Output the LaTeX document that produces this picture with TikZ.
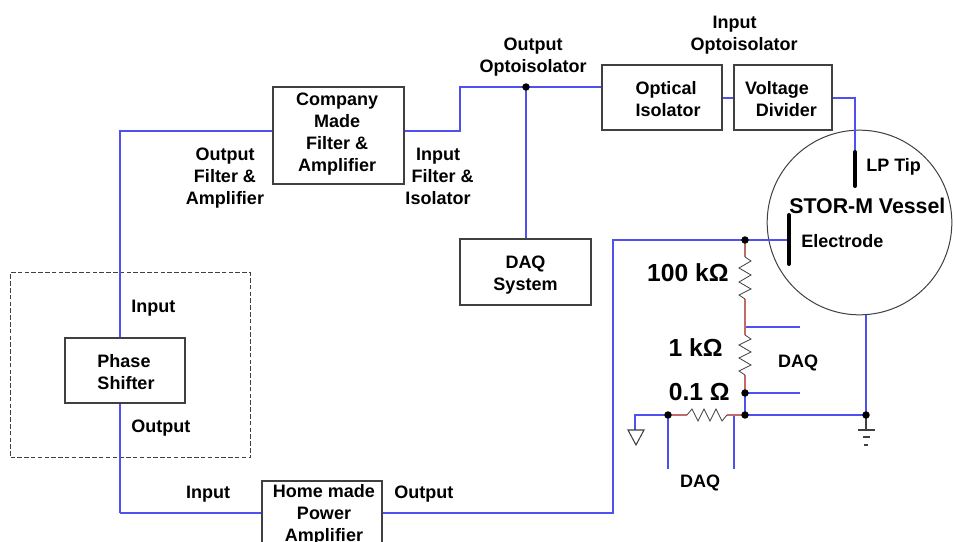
\documentclass[tikz,border=0pt]{standalone}
\usepackage{fontspec}
\setmainfont{Liberation Sans}
\newcommand{\txtf}{\bfseries\fontsize{13.5}{16.5}\selectfont}
\newcommand{\bigf}{\bfseries\fontsize{18.5}{22}\selectfont}
\definecolor{wireblue}{HTML}{5050F0}
\definecolor{wirered}{HTML}{C46A6A}
\definecolor{ink}{HTML}{404040}
\tikzset{
  x=0.75pt,y=-0.75pt,
  box/.style={draw=ink,line width=0.8pt,fill=white,inner sep=0pt},
  txt/.style={inner sep=0pt,align=center,font=\txtf,text=black},
  bigtxt/.style={inner sep=0pt,align=center,font=\bigf,text=black},
  wire/.style={draw=wireblue,line width=0.9pt},
  redwire/.style={draw=wirered,line width=0.9pt},
  res/.style={draw=ink,line width=0.6pt,line join=miter},
  gnd/.style={draw=ink,line width=0.8pt},
  probe/.style={draw=black,line width=3pt,line cap=round},
  dot/.style={circle,fill=black,inner sep=0pt,minimum size=5.6pt},
}
\begin{document}
\begin{tikzpicture}
\useasboundingbox (0,0) rectangle (953,542);
\clip (0,0) rectangle (953,542);
\fill[white] (0,0) rectangle (953,542);
% vessel and dashed frame
\node[draw=ink,line width=0.75pt,circle,minimum size=138.5pt,inner sep=0pt] (vessel) at (859.5,222.5) {};
\node[draw=ink,line width=0.8pt,minimum width=180pt,minimum height=138.5pt,inner sep=0pt,
      dash pattern=on 3.4pt off 1.7pt] (frame) at (130.5,365) {};
% coordinates
\coordinate (w1) at (120,131);
\coordinate (w2) at (460,131);
\coordinate (w3) at (460,87);
\coordinate (w4) at (855,98);
\coordinate (w5) at (120,513);
\coordinate (w6) at (613,513);
\coordinate (w7) at (613,240);
\coordinate (tipTop) at (855,152);
\coordinate (tipBot) at (855,186);
\coordinate (elTop) at (789,215);
\coordinate (elBot) at (789,264);
\coordinate (elMid) at (789,240);
\coordinate (vb) at (866,315);
\coordinate (d1a) at (800,327);
\coordinate (d1b) at (745,327);
\coordinate (d2a) at (800,393);
\coordinate (gl) at (635,415);
\coordinate (d3a) at (668,469);
\coordinate (d4a) at (734,469);
\coordinate (d4b) at (734,415);
\coordinate (r1a) at (745,257);
\coordinate (r1b) at (745,299);
\coordinate (r2a) at (745,335);
\coordinate (r2b) at (745,375);
\coordinate (r3a) at (687,415);
\coordinate (r3b) at (727,415);
\coordinate (g1) at (866,430);
\coordinate (g2) at (635,430);
% wires
\draw[wire] (w5) -- (w1) -- (273,131);
\draw[wire] (404,131) -- (w2) -- (w3) -- (602,87);
\draw[wire] (526,87) -- (526,239);
\draw[wire] (722,98) -- (734,98);
\draw[wire] (832,98) -- (w4) -- (tipTop);
\draw[wire] (382,513) -- (w6) -- (w7) -- (elMid);
\draw[wire] (w5) -- (262,513);
\draw[wire] (d1b) -- (d1a);
\draw[wire] (745,393) -- (d2a);
\draw[wire] (745,393) -- (745,415);
\draw[wire] (g2) -- (gl) -- (668,415);
\draw[wire] (745,415) -- (866,415);
\draw[wire] (668,415) -- (d3a);
\draw[wire] (d4b) -- (d4a);
\draw[wire] (vb) -- (866,415);
\draw[redwire] (745,240) -- (r1a);
\draw[redwire] (r1b) -- (r2a);
\draw[redwire] (r2b) -- (745,393);
\draw[redwire] (668,415) -- (r3a);
\draw[redwire] (r3b) -- (745,415);
% resistors
\draw[res] (r1a) -- (751,261) -- (739,268) -- (751,275) -- (739,282) -- (751,289) -- (739,295) -- (745,299) -- (r1b);
\draw[res] (r2a) -- (751,339) -- (739,345) -- (751,352) -- (739,358) -- (751,365) -- (739,371) -- (r2b);
\draw[res] (r3a) -- (692,409) -- (698,421) -- (704,409) -- (710,421) -- (716,409) -- (722,421) -- (r3b);
% probes
\draw[probe] (tipTop) -- (tipBot);
\draw[probe] (elTop) -- (elBot);
% grounds
\draw[gnd] (866,415) -- (g1);
\draw[gnd] (858,430) -- (875,430);
\draw[gnd] (863,437) -- (870,437);
\draw[gnd] (864,445) -- (868,445);
\draw[gnd] (628,430) -- (644,430) -- (636,445) -- cycle;
% dots
\node[dot] (n1) at (526,87) {};
\node[dot] (n2) at (745,240) {};
\node[dot] (n3) at (745,393) {};
\node[dot] (n4) at (745,415) {};
\node[dot] (n5) at (668,415) {};
\node[dot] (n6) at (866,415) {};
% boxes
\node[box,minimum width=98.25pt,minimum height=72.75pt,
      label={[txt,xshift=-1pt,yshift=1.1pt]center:{Company\\Made\\Filter \&\\Amplifier}}] (company) at (338.5,135.5) {};
\node[box,minimum width=90pt,minimum height=48.75pt,
      label={[txt,xshift=4.5pt,yshift=-1.5pt]center:{\hspace*{-3pt}Optical\\Isolator}}] (optical) at (662,97.5) {};
\node[box,minimum width=73.5pt,minimum height=48.75pt,
      label={[txt,xshift=2pt,yshift=-1.5pt]center:{\hspace*{-13pt}Voltage\\\hspace*{1pt}Divider}}] (divider) at (783,97.5) {};
\node[box,minimum width=98.25pt,minimum height=49.5pt,
      label={[txt,yshift=-2pt]center:{DAQ\\System}}] (daq) at (525.5,272) {};
\node[box,minimum width=90pt,minimum height=48.75pt,
      label={[txt,xshift=0.75pt,yshift=-1.5pt]center:{\hspace*{-3pt}Phase\\Shifter}}] (phase) at (125,370.5) {};
\node[box,minimum width=90pt,minimum height=49.5pt,
      label={[txt,xshift=1.5pt,yshift=-0.6pt]center:{Home made\\Power\\Amplifier}}] (amp) at (322,514) {};
% labels
\node[txt] (l1) at (533,57) {Output\\Optoisolator};
\node[txt] (l2) at (744,35) {\hspace*{-14pt}Input\\Optoisolator};
\node[txt] (l3) at (225,178) {Output\\Filter \&\\Amplifier};
\node[txt] (l4) at (438,176) {Input\\\hspace*{7pt}Filter \&\\Isolator};
\node[txt,anchor=west] (l5) at (131,308.5) {Input};
\node[txt,anchor=west] (l6) at (131,428.5) {Output};
\node[txt] (l7) at (208,494) {Input};
\node[txt,anchor=west] (l8) at (394,494) {Output};
\node[txt,anchor=west] (l9) at (866,167) {LP Tip};
\node[inner sep=0pt,font=\bfseries\fontsize{16}{18}\selectfont,anchor=west] (l10) at (789,206) {STOR-M Vessel};
\node[txt,anchor=west] (l11) at (801,241) {Electrode};
\node[bigtxt,anchor=east] (l12) at (729,273) {100 kΩ};
\node[bigtxt,anchor=east] (l13) at (723,348) {1 kΩ};
\node[bigtxt,anchor=east] (l14) at (730,392) {0.1 Ω};
\node[txt] (l15) at (798,363) {DAQ};
\node[txt] (l16) at (700,483) {DAQ};
\end{tikzpicture}
\end{document}
